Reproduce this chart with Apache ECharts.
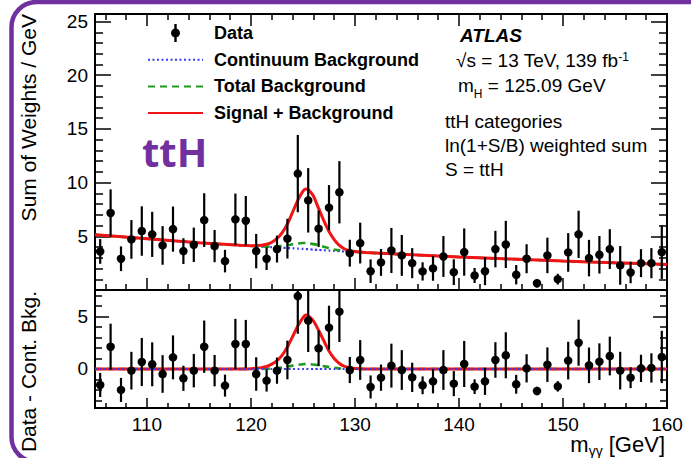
<!DOCTYPE html>
<html>
<head>
<meta charset="utf-8">
<script src="https://cdn.jsdelivr.net/npm/echarts@6/dist/echarts.min.js"></script>
<style>
  html, body { margin: 0; padding: 0; background: #fff; }
  #chart { width: 691px; height: 458px; }
</style>
</head>
<body>
<div id="chart"></div>
<script>
// Diphoton invariant-mass spectrum, ttH categories, ln(1+S/B)-weighted sum.

// 1 GeV bin centres
const massBins = [
  105.5, 106.5, 107.5, 108.5, 109.5, 110.5, 111.5, 112.5, 113.5, 114.5,
  115.5, 116.5, 117.5, 118.5, 119.5, 120.5, 121.5, 122.5, 123.5, 124.5,
  125.5, 126.5, 127.5, 128.5, 129.5, 130.5, 131.5, 132.5, 133.5, 134.5,
  135.5, 136.5, 137.5, 138.5, 139.5, 140.5, 141.5, 142.5, 143.5, 144.5,
  145.5, 146.5, 147.5, 148.5, 149.5, 150.5, 151.5, 152.5, 153.5, 154.5,
  155.5, 156.5, 157.5, 158.5, 159.5
];

// Weighted data (sum of weights / GeV)
const sumWeights = [
  3.59, 7.17, 2.91, 4.71, 5.49, 5.18, 4.15, 5.67, 3.62, 4.21,
  6.51, 4.09, 2.69, 6.58, 6.45, 3.62, 2.91, 3.81, 4.78, 10.84,
  8.35, 5.71, 7.67, 9.10, 3.43, 4.37, 1.75, 2.57, 3.68, 3.22,
  2.50, 1.73, 2.01, 3.12, 1.66, 3.53, 1.35, 1.75, 3.81, 4.24,
  1.42, 2.91, 0.63, 3.22, 1.01, 3.50, 5.18, 2.97, 3.28, 3.81,
  2.29, 1.63, 2.50, 2.50, 3.53
];

// Data minus continuum background
const residuals = [
  -1.53, 2.13, -2.00, -0.16, 0.67, 0.45, -0.48, 1.11, -0.89, -0.16,
  2.13, -0.16, -1.59, 2.39, 2.39, -0.48, -1.11, -0.16, 0.86, 6.97,
  4.62, 1.97, 3.95, 5.48, -0.10, 0.86, -1.72, -0.83, 0.32, -0.10,
  -0.80, -1.56, -1.18, -0.10, -1.40, 0.48, -1.69, -1.18, 0.86, 1.31,
  -1.46, 0.06, -2.10, 0.41, -1.66, 0.80, 2.51, 0.35, 0.70, 1.24,
  -0.16, -0.83, 0.06, 0.10, 1.15
];

// Statistical uncertainty per bin
const errors = [
  1.15, 2.20, 1.15, 1.80, 2.30, 2.10, 1.80, 2.10, 1.20, 1.60,
  2.50, 1.50, 1.05, 2.40, 2.30, 1.60, 1.05, 1.25, 1.85, 3.60,
  3.00, 1.70, 2.10, 2.90, 1.25, 1.90, 1.10, 1.25, 2.10, 1.90,
  1.40, 0.85, 1.15, 1.90, 1.20, 2.20, 0.70, 1.30, 1.70, 2.20,
  0.90, 1.35, 0.40, 1.65, 0.50, 1.80, 2.20, 1.70, 1.75, 1.85,
  1.80, 1.00, 1.30, 1.40, 2.50
];

// Fit curves, sampled in m_yy
const curveMass = [
  105, 110, 115, 119, 120, 121, 121.5, 122, 122.5, 123, 123.5, 124, 124.5, 125,
  125.25, 125.5, 126, 126.5, 127, 127.5, 128, 128.5, 129, 129.5, 130, 131,
  135, 140, 145, 150, 155, 160
];
const continuumFit = [
  5.15, 4.77, 4.40, 4.15, 4.10, 4.04, 4.02, 3.99, 3.96, 3.94, 3.91, 3.89, 3.86, 3.83,
  3.82, 3.80, 3.76, 3.73, 3.70, 3.67, 3.64, 3.61, 3.58, 3.55, 3.53, 3.48,
  3.30, 3.07, 2.88, 2.70, 2.53, 2.38
];
const totalBkgFit = [
  5.15, 4.77, 4.40, 4.15, 4.10, 4.05, 4.04, 4.04, 4.05, 4.11, 4.17, 4.26, 4.33, 4.37,
  4.37, 4.35, 4.27, 4.16, 4.02, 3.89, 3.78, 3.69, 3.62, 3.57, 3.54, 3.48,
  3.30, 3.07, 2.88, 2.70, 2.53, 2.38
];
const sigBkgFit = [
  5.15, 4.77, 4.40, 4.16, 4.13, 4.17, 4.26, 4.45, 4.80, 5.35, 6.15, 7.25, 8.35, 9.20,
  9.40, 9.35, 8.75, 7.60, 6.45, 5.45, 4.70, 4.15, 3.82, 3.66, 3.58, 3.49,
  3.30, 3.07, 2.88, 2.70, 2.53, 2.38
];
// Same curves with the continuum subtracted
const continuumRes = [
  0, 0, 0, 0, 0, 0, 0, 0, 0, 0, 0, 0, 0, 0,
  0, 0, 0, 0, 0, 0, 0, 0, 0, 0, 0, 0,
  0, 0, 0, 0, 0, 0
];
const totalBkgRes = [
  0, 0, 0, 0, 0, 0.01, 0.02, 0.05, 0.09, 0.15, 0.23, 0.32, 0.40, 0.46,
  0.48, 0.47, 0.43, 0.36, 0.27, 0.18, 0.11, 0.06, 0.03, 0.02, 0.01, 0,
  0, 0, 0, 0, 0, 0
];
const sigBkgRes = [
  0, 0, 0, 0.01, 0.03, 0.13, 0.24, 0.46, 0.80, 1.33, 2.10, 3.10, 4.10, 4.90,
  5.15, 5.10, 4.60, 3.70, 2.70, 1.72, 1.00, 0.53, 0.25, 0.11, 0.05, 0.01,
  0, 0, 0, 0, 0, 0
];

// Axis ticks and labels
const massRange = [105, 160];
const massMajorTicks = [110, 120, 130, 140, 150, 160];
const massMinorTicks = [106, 108, 112, 114, 116, 118, 122, 124, 126, 128, 132, 134, 136, 138,
                        142, 144, 146, 148, 152, 154, 156, 158];
const mainRange = [0, 25.7];
const mainMajorTicks = [0, 5, 10, 15, 20, 25];
const mainLabels = [5, 10, 15, 20, 25];
const mainMinorTicks = [1, 2, 3, 4, 6, 7, 8, 9, 11, 12, 13, 14, 16, 17, 18, 19, 21, 22, 23, 24];
const resRange = [-3.73, 7.55];
const resMajorTicks = [0, 5];
const resLabels = [0, 5];
const resMinorTicks = [-3, -2, -1, 1, 2, 3, 4, 6, 7];

const FONT = "'Liberation Sans', Arial, Helvetica, sans-serif";
const PURPLE = '#7030a0';
const BLUE = '#3a3af0';
const GREEN = '#1f9a1f';
const RED = '#f01414';

function tickAxis(gridIndex, position, range, ticks, len, labels) {
  return {
    type: 'value', gridIndex, position, min: range[0], max: range[1],
    axisLine: { show: false, onZero: false },
    axisTick: { show: true, inside: true, length: len, customValues: ticks,
                lineStyle: { color: '#000', width: 1.5 } },
    axisLabel: labels
      ? { show: true, customValues: labels, fontSize: 19, color: '#000', fontFamily: FONT, margin: 7 }
      : { show: false },
    splitLine: { show: false }
  };
}

const xAxes = [
  tickAxis(0, 'bottom', massRange, massMajorTicks, 12),   // 0: top panel
  tickAxis(0, 'bottom', massRange, massMinorTicks, 6),
  tickAxis(0, 'top', massRange, massMajorTicks, 12),
  tickAxis(0, 'top', massRange, massMinorTicks, 6),
  tickAxis(1, 'bottom', massRange, massMajorTicks, 10, massMajorTicks), // 4: ratio panel
  tickAxis(1, 'bottom', massRange, massMinorTicks, 5)
];
const yAxes = [
  tickAxis(0, 'left', mainRange, mainMajorTicks, 16, mainLabels),  // 0: top panel
  tickAxis(0, 'left', mainRange, mainMinorTicks, 8),
  tickAxis(0, 'right', mainRange, mainMajorTicks, 16),
  tickAxis(0, 'right', mainRange, mainMinorTicks, 8),
  tickAxis(1, 'left', resRange, resMajorTicks, 14, resLabels),     // 4: ratio panel
  tickAxis(1, 'left', resRange, resMinorTicks, 7),
  tickAxis(1, 'right', resRange, resMajorTicks, 14),
  tickAxis(1, 'right', resRange, resMinorTicks, 7)
];

function curve(name, values, xi, yi, color, width, type, z) {
  return {
    name, type: 'line', xAxisIndex: xi, yAxisIndex: yi,
    data: curveMass.map((m, i) => [m, values[i]]),
    symbol: 'none', smooth: 0.2, z,
    lineStyle: { color, width, type }, itemStyle: { color }
  };
}

function errorBars(values, xi, yi) {
  return {
    type: 'custom', xAxisIndex: xi, yAxisIndex: yi, z: 8, clip: true,
    data: massBins.map((m, i) => [m, values[i] - errors[i], values[i] + errors[i]]),
    renderItem(params, api) {
      const lo = api.coord([api.value(0), api.value(1)]);
      const hi = api.coord([api.value(0), api.value(2)]);
      return { type: 'line', shape: { x1: lo[0], y1: lo[1], x2: hi[0], y2: hi[1] },
               style: { stroke: '#000', lineWidth: 2.2 } };
    }
  };
}

function points(values, xi, yi) {
  return {
    name: 'Data', type: 'scatter', xAxisIndex: xi, yAxisIndex: yi, z: 9,
    data: massBins.map((m, i) => [m, values[i]]),
    symbol: 'circle', symbolSize: 8.5, itemStyle: { color: '#000', opacity: 1 }, clip: true
  };
}

const series = [
  curve('Continuum Background', continuumFit, 0, 0, BLUE, 2.2, [2, 2.5], 3),
  curve('Total Background', totalBkgFit, 0, 0, GREEN, 2.6, [7, 5], 4),
  curve('Signal + Background', sigBkgFit, 0, 0, RED, 3, 'solid', 5),
  errorBars(sumWeights, 0, 0),
  points(sumWeights, 0, 0),
  curve('Total Background', totalBkgRes, 4, 4, GREEN, 2.6, [7, 5], 3),
  curve('Signal + Background', sigBkgRes, 4, 4, RED, 3, 'solid', 4),
  curve('Continuum Background', continuumRes, 4, 4, BLUE, 2.2, [2, 2.5], 5),
  errorBars(residuals, 4, 4),
  points(residuals, 4, 4)
];

const txt = (x, y, text, extra) => ({
  type: 'text', x, y, silent: true, z: 50,
  style: Object.assign({ text, fontFamily: FONT, fontSize: 19, fill: '#000',
                         align: 'left', verticalAlign: 'middle' }, extra || {})
});

const lineOnly = { opacity: 0 };

const chart = echarts.init(document.getElementById('chart'), null, { renderer: 'svg' });
chart.setOption({
  backgroundColor: '#fff',
  animation: false,
  grid: [
    { left: 95, right: 24, top: 14, height: 276, show: true, borderColor: '#000', borderWidth: 2,
      backgroundColor: 'transparent', containLabel: false },
    { left: 95, right: 24, top: 290, height: 118, show: true, borderColor: '#000', borderWidth: 2,
      backgroundColor: 'transparent', containLabel: false }
  ],
  xAxis: xAxes,
  yAxis: yAxes,
  legend: {
    orient: 'vertical', left: 147, top: 24, padding: 0,
    itemWidth: 55, itemHeight: 18, itemGap: 8.7, selectedMode: false,
    textStyle: { fontFamily: FONT, fontSize: 18, fontWeight: 'bold', color: '#000', padding: [0, 0, 0, 6] },
    data: [
      { name: 'Data', icon: 'path://M3.3,0H5.7V18H3.3Z M0,9A4.5,4.5,0,1,1,9,9A4.5,4.5,0,1,1,0,9Z',
        itemStyle: { color: '#000', opacity: 1 } },
      { name: 'Continuum Background', itemStyle: lineOnly },
      { name: 'Total Background', itemStyle: lineOnly },
      { name: 'Signal + Background', itemStyle: lineOnly }
    ]
  },
  series,
  graphic: [
    { type: 'rect', silent: true, z: 60,
      shape: { x: 11.5, y: 2, width: 720, height: 460, r: 25 },
      style: { fill: 'none', stroke: PURPLE, lineWidth: 4.5 } },
    txt(142, 151, 'ttH', { fontSize: 40, fontWeight: 'bold', fill: PURPLE,
                           fontFamily: "'Open Sans', 'Liberation Sans', sans-serif" }),
    txt(460, 35, 'ATLAS', { fontWeight: 'bold', fontStyle: 'italic' }),
    txt(456, 60, '{n|√s = 13 TeV, 139 fb}{s|-1}', {
      rich: { n: { fontSize: 19, fontFamily: FONT }, s: { fontSize: 12, fontFamily: FONT, verticalAlign: 'top' } } }),
    txt(458, 85, '{n|m}{h|H}{n| = 125.09 GeV}', {
      rich: { n: { fontSize: 19, fontFamily: FONT }, h: { fontSize: 12, fontFamily: FONT, verticalAlign: 'bottom', padding: [0, 0, -5, 0] } } }),
    txt(445, 121, 'ttH categories'),
    txt(445, 145, 'ln(1+S/B) weighted sum'),
    txt(445, 169, 'S = ttH'),
    { type: 'text', x: 28, y: 14, rotation: Math.PI / 2, silent: true,
      style: { text: 'Sum of Weights / GeV', fontFamily: FONT, fontSize: 21, fill: '#000',
               align: 'right', verticalAlign: 'middle' } },
    { type: 'text', x: 28, y: 291, rotation: Math.PI / 2, silent: true,
      style: { text: 'Data - Cont. Bkg.', fontFamily: FONT, fontSize: 21, fill: '#000',
               align: 'right', verticalAlign: 'middle' } },
    txt(665, 444, '{a|m}{b|γγ}{a| [GeV]}', {
      align: 'right',
      rich: { a: { fontSize: 22, lineHeight: 22, fontFamily: FONT },
              b: { fontSize: 14, lineHeight: 27, fontFamily: FONT, verticalAlign: 'bottom' } } })
  ]
});
</script>
</body>
</html>
